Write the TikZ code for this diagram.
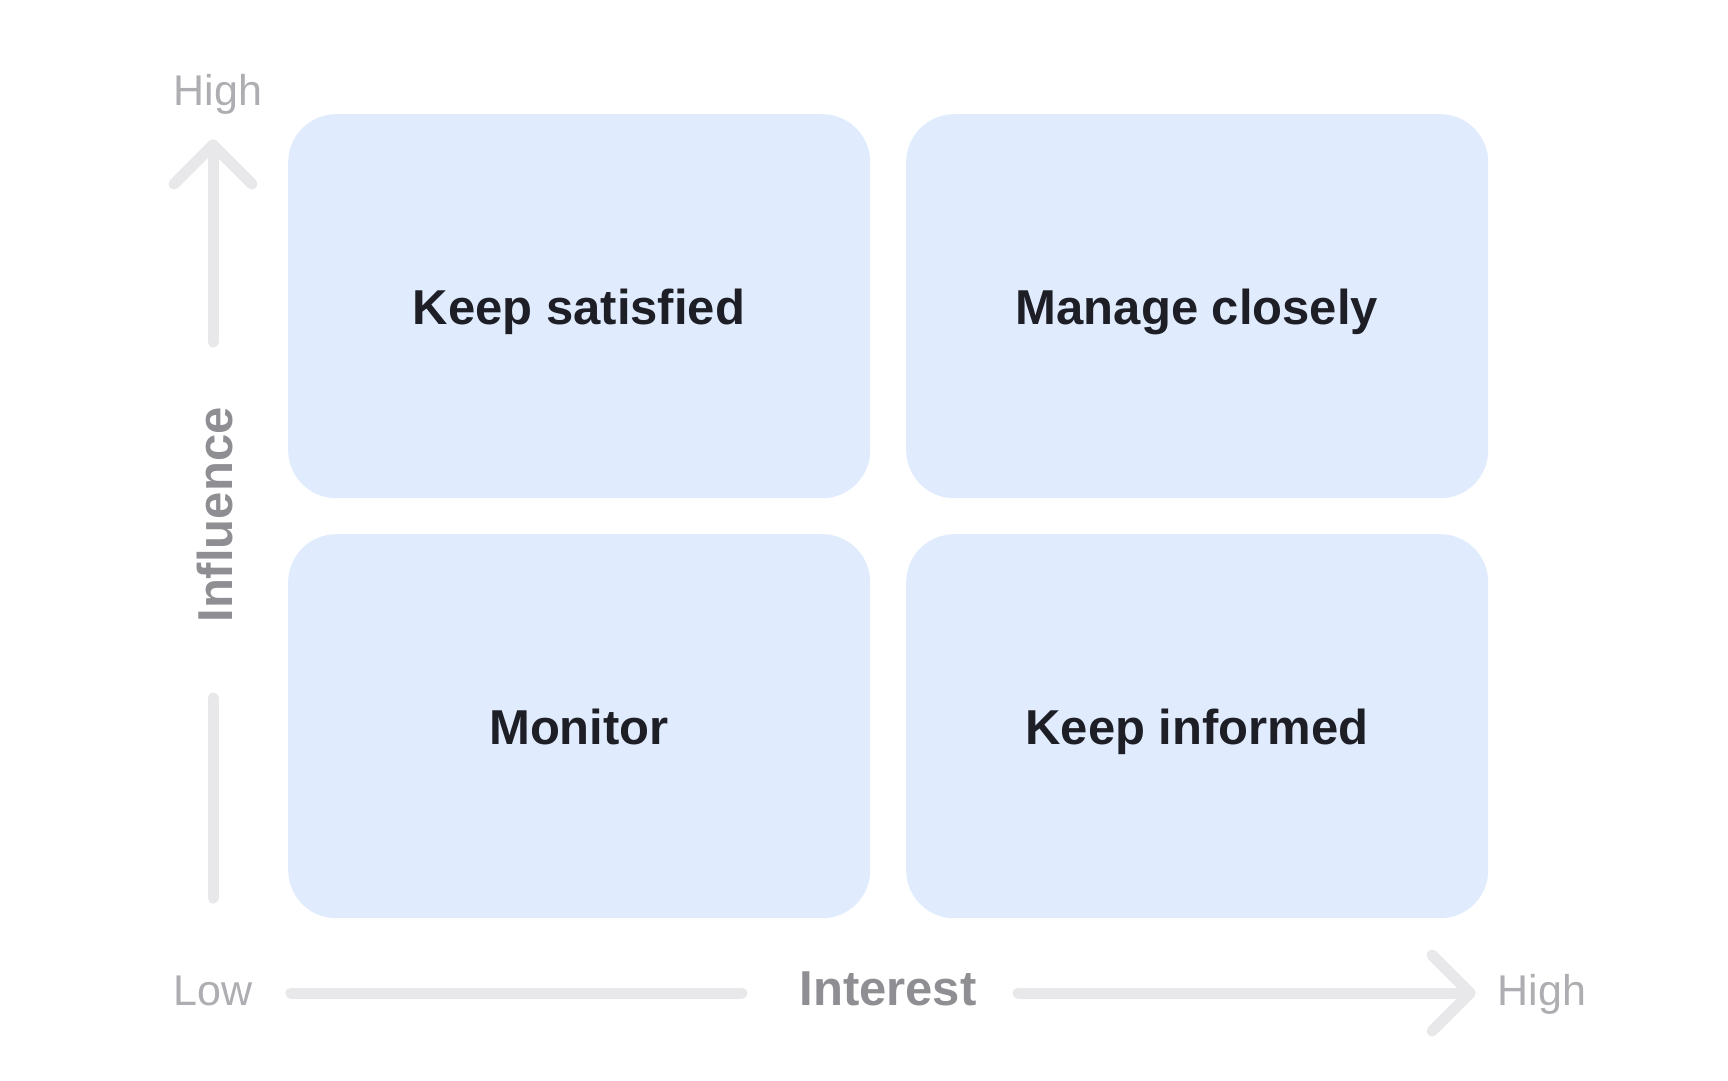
\documentclass[tikz,border=0pt]{standalone}
\usepackage{fontspec}
\setmainfont{Liberation Sans}
\definecolor{boxfill}{HTML}{E0ECFD}
\definecolor{boxtext}{HTML}{1D1E26}
\definecolor{axisline}{HTML}{E8E8EA}
\definecolor{axislabel}{HTML}{8E8E93}
\definecolor{endlabel}{HTML}{AEAEB2}
\tikzset{
  quad/.style={fill=boxfill, draw=none, rounded corners=48pt, minimum width=582pt, minimum height=384pt, inner sep=0pt, anchor=north west},
  quadtext/.style={font=\fontsize{49}{49}\selectfont\bfseries, text=boxtext, anchor=base, inner sep=0pt},
  axistitle/.style={font=\fontsize{49}{49}\selectfont\bfseries, text=axislabel, anchor=base, inner sep=0pt},
  endtext/.style={font=\fontsize{43}{43}\selectfont, text=endlabel, anchor=base, inner sep=0pt},
  axisstroke/.style={draw=axisline, line width=11pt, line cap=round, line join=round}
}
\begin{document}
\begin{tikzpicture}[x=1pt,y=-1pt]
\useasboundingbox[fill=white] (0,0) rectangle (1728,1080);
% quadrants
\node[quad] (q1) at (288,114) {};
\node[quad] (q2) at (906,114) {};
\node[quad] (q3) at (288,534) {};
\node[quad] (q4) at (906,534) {};
\node[quadtext] (t1) at (579,324) {Keep satisfied};
\node[quadtext] (t2) at (1197,324) {Manage closely};
\node[quadtext] (t3) at (579,744) {Monitor};
\node[quadtext] (t4) at (1197,744) {Keep informed};
% axis labels
\node[endtext] (hightop) at (218,105) {High};
\node[endtext] (low) at (213,1005) {Low};
\node[endtext] (highright) at (1542,1005) {High};
\node[axistitle] (interest) at (888,1005) {Interest};
\node[axistitle, rotate=90] (influence) at (232,515) {Influence};
% vertical axis
\coordinate (vtip) at (213,145);
\coordinate (vtop) at (213,342);
\coordinate (vbl) at (174,184);
\coordinate (vbr) at (252,184);
\coordinate (vlowa) at (213,698);
\coordinate (vlowb) at (213,898);
\draw[axisstroke] (vtip) -- (vtop);
\draw[axisstroke] (vbl) -- (vtip) -- (vbr);
\draw[axisstroke] (vlowa) -- (vlowb);
% horizontal axis
\coordinate (hla) at (291,993);
\coordinate (hlb) at (742,993);
\coordinate (hra) at (1018,993);
\coordinate (htip) at (1470,993);
\coordinate (hbt) at (1432,955);
\coordinate (hbb) at (1432,1031);
\draw[axisstroke] (hla) -- (hlb);
\draw[axisstroke] (hra) -- (htip);
\draw[axisstroke] (hbt) -- (htip) -- (hbb);
\end{tikzpicture}
\end{document}
